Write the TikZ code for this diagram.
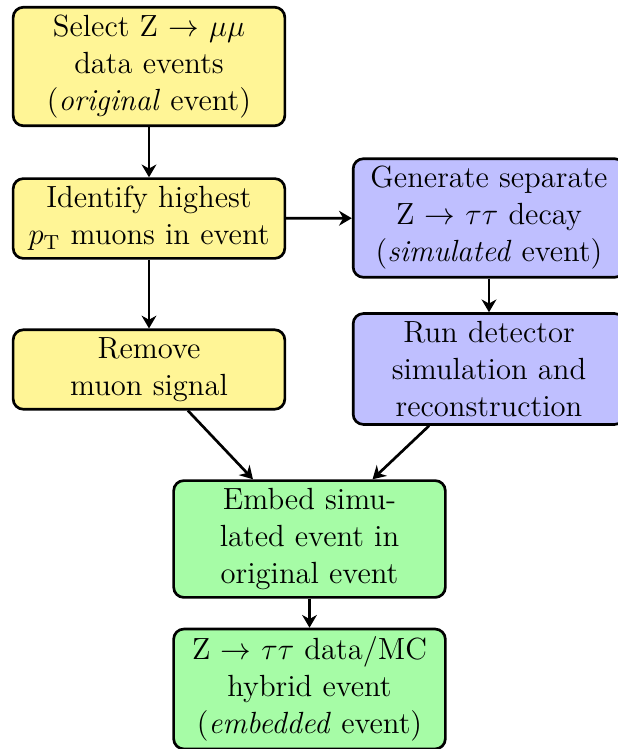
\documentclass[tikz,border=0pt,12pt]{standalone}
\usetikzlibrary{arrows.meta}
\definecolor{boxyellow}{RGB}{255,245,150}
\definecolor{boxblue}{RGB}{191,191,255}
\definecolor{boxgreen}{RGB}{166,252,166}
\begin{document}
\begin{tikzpicture}[x=0.392pt,y=-0.392pt,
  stepbox/.style={draw=black, line width=1.05pt, rounded corners=4pt, align=center,
    text width=98.5pt, inner xsep=4pt, inner ysep=3pt},
  ybox/.style={stepbox, fill=boxyellow},
  bbox/.style={stepbox, fill=boxblue},
  gbox/.style={stepbox, fill=boxgreen},
  conn/.style={-{Stealth[length=5pt,width=5.8pt,inset=1.6pt]}, line width=1.05pt}]
\useasboundingbox (0,0) rectangle (617,749);
\node[ybox] (sel) at (149,66.5) {Select Z $\rightarrow$ $\mu\mu$\\data events\\(\textit{original} event)};
\node[ybox] (ident) at (149,218.5) {Identify highest\\$p_\mathrm{T}$ muons in event};
\node[bbox] (gen) at (489,218) {Generate separate\\Z $\rightarrow$ $\tau\tau$ decay\\(\textit{simulated} event)};
\node[ybox] (rem) at (149,369.5) {Remove\\muon signal};
\node[bbox] (run) at (489,369) {Run detector\\simulation and\\reconstruction};
\node[gbox] (emb) at (309.5,539) {Embed simu-\\lated event in\\original event};
\node[gbox] (hyb) at (309.5,689) {Z $\rightarrow$ $\tau\tau$ data/MC\\hybrid event\\(\textit{embedded} event)};
\draw[conn] (sel) -- (ident);
\draw[conn] (ident) -- (gen);
\draw[conn] (ident) -- (rem);
\draw[conn] (gen) -- (run);
\draw[conn] (rem) -- (emb);
\draw[conn] (run) -- (emb);
\draw[conn] (emb) -- (hyb);
\end{tikzpicture}
\end{document}
